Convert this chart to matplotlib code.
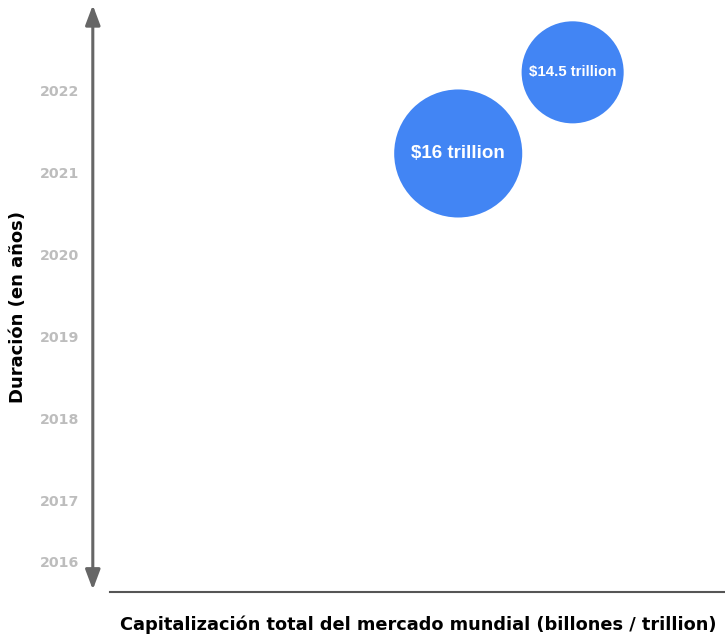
import matplotlib.pyplot as plt

# Data
labels = ["$16 trillion", "$14.5 trillion"]
market_x = [5.78, 7.59]          # position along the (unlabelled) x axis
year_y = [2021.23, 2022.22]      # position on the year axis
bubble_size = [8500, 5400]       # marker area (pt^2)
label_size = [13.5, 10.8]

years = [2016, 2017, 2018, 2019, 2020, 2021, 2022]
year_pos = [2016.25, 2017, 2018, 2019, 2020, 2021, 2022]

fig = plt.figure(figsize=(7.25, 6.4), dpi=100)
ax = fig.add_axes([0.128, 0.075, 0.872, 0.917])

blue = "#4285f4"
ax.scatter(market_x, year_y, s=bubble_size, color=blue, edgecolors="none", zorder=3)
for x, y, txt, fs in zip(market_x, year_y, labels, label_size):
    ax.text(x, y, txt, color="white", fontsize=fs, fontweight="bold",
            family="Liberation Sans", ha="center", va="center", zorder=4)

ax.set_xlim(0, 10)
ax.set_ylim(2015.88, 2023.04)
ax.set_xticks([])
ax.set_yticks(year_pos)
ax.set_yticklabels([str(y) for y in years])
ax.tick_params(axis="y", length=0, pad=10, labelcolor="#bdbdbd", labelsize=10.2)
for lab in ax.get_yticklabels():
    lab.set_fontweight("bold")
for s in ax.spines.values():
    s.set_visible(False)

# vertical double-headed arrow along the y axis
ax.annotate("", xy=(0, 1.0), xytext=(0, 0.004), xycoords="axes fraction",
            arrowprops=dict(arrowstyle="<|-|>,head_length=1.2,head_width=0.45",
                            color="#666666", lw=2.2, shrinkA=0, shrinkB=0))
# horizontal base line
ax.plot([0.027, 1.0], [0, 0], transform=ax.transAxes, color="#555555",
        lw=1.5, clip_on=False)

fig.text(0.025, 0.52, "Duración (en años)", rotation=90, fontsize=13,
         fontweight="bold", ha="center", va="center")
fig.text(0.577, 0.024, "Capitalización total del mercado mundial (billones / trillion)",
         fontsize=12.8, fontweight="bold", ha="center", va="center")

fig.savefig("out.png", dpi=100)
